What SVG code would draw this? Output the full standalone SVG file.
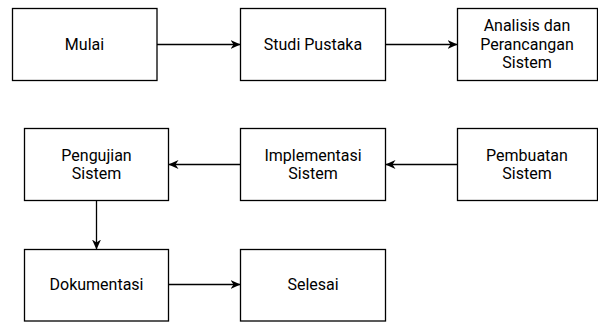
<svg xmlns="http://www.w3.org/2000/svg" width="598" height="322" viewBox="0 0 598 322">
<style>
.box{fill:#fff;stroke:#000;stroke-width:1.3}
.t{font-family:Roboto,"Liberation Sans",sans-serif;font-size:16px;fill:#000;text-anchor:middle}
.c{stroke:#000;stroke-width:1.3;fill:none;marker-end:url(#ah)}
</style>
<defs>
<marker id="ah" viewBox="0 0 10 9" refX="9.5" refY="4.5" markerWidth="10" markerHeight="9" markerUnits="userSpaceOnUse" orient="auto">
<path d="M0,0 L10,4.5 L0,9 L3,4.5 Z" fill="#000"/>
</marker>
</defs>
<rect width="598" height="322" fill="#fff"/>
<g id="connectors">
<path class="c" d="M157,44.5 H240"/>
<path class="c" d="M385.5,44.5 H457"/>
<path class="c" d="M457,164.5 H386"/>
<path class="c" d="M240.5,164.5 H169"/>
<path class="c" d="M96.5,200.5 V249"/>
<path class="c" d="M168.5,284.5 H240"/>
</g>
<g id="mulai"><rect class="box" x="12.5" y="8.5" width="144.5" height="72"/><text class="t" x="84.5" y="50.3">Mulai</text></g>
<g id="studi"><rect class="box" x="240.5" y="8.5" width="145" height="72"/><text class="t" x="313" y="50.3">Studi Pustaka</text></g>
<g id="analisis"><rect class="box" x="457.5" y="8.5" width="140" height="72"/><text class="t" x="527" y="31">Analisis dan</text><text class="t" x="527" y="49.7">Perancangan</text><text class="t" x="527" y="68.4">Sistem</text></g>
<g id="pengujian"><rect class="box" x="24.5" y="128.5" width="144" height="72"/><text class="t" x="96.5" y="160.7">Pengujian</text><text class="t" x="96.5" y="179.4">Sistem</text></g>
<g id="implementasi"><rect class="box" x="240.5" y="128.5" width="145" height="72"/><text class="t" x="313" y="160.7">Implementasi</text><text class="t" x="313" y="179.4">Sistem</text></g>
<g id="pembuatan"><rect class="box" x="457.5" y="128.5" width="140" height="72"/><text class="t" x="527" y="160.7">Pembuatan</text><text class="t" x="527" y="179.4">Sistem</text></g>
<g id="dokumentasi"><rect class="box" x="24.5" y="249.5" width="144" height="71.5"/><text class="t" x="96.5" y="289.5">Dokumentasi</text></g>
<g id="selesai"><rect class="box" x="240.5" y="249.5" width="145" height="71.5"/><text class="t" x="313" y="289.5">Selesai</text></g>
</svg>
